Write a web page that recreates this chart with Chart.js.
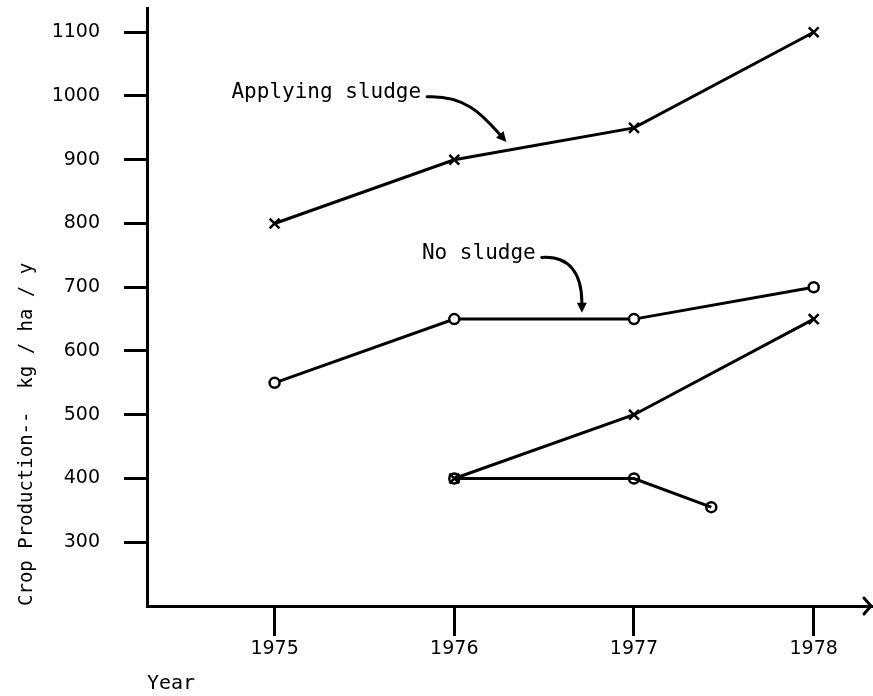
<!DOCTYPE html>
<html>
<head>
<meta charset="utf-8">
<script src="https://cdn.jsdelivr.net/npm/chart.js@4.4.1/dist/chart.umd.min.js"></script>
<style>
  html, body { margin: 0; padding: 0; background: #ffffff; }
  #wrap { width: 873px; height: 696px; position: relative; }
</style>
</head>
<body>
<div id="wrap"><canvas id="c" width="873" height="696"></canvas></div>
<script>
// ---- data ----
const years = [1975, 1976, 1977, 1978];
const yTickValues = [300, 400, 500, 600, 700, 800, 900, 1000, 1100];
const applyingSludge = [800, 900, 950, 1100];
const noSludge = [550, 650, 650, 700];
const lowerCrossYears = [1976, 1977, 1978];
const lowerCross = [400, 500, 650];
const lowerCircleYears = [1976, 1977, 1977.43];
const lowerCircle = [400, 400, 355];

const yTitle = 'Crop Production--  kg / ha / y';
const xTitle = 'Year';

// annotation labels (anchored in data units)
const annotations = [
  { text: 'Applying sludge', x: 1974.76, y: 1005, tipX: 1976.29, tipY: 928, c1: 0.5, c2x: 0.72, c2y: 0.45 },
  { text: 'No sludge', x: 1975.82, y: 753, tipX: 1976.71, tipY: 660, c1: 0.7, c2x: 1.0, c2y: 0.3 }
];

const pts = (xs, ys) => xs.map((x, i) => ({ x: x, y: ys[i] }));

const ink = '#000000';
const tickFont = { family: 'DejaVu Sans', size: 19 };
const annFont = '21px "DejaVu Sans Mono"';

const annotationPlugin = {
  id: 'annotationPlugin',
  afterDatasetsDraw(chart) {
    const ctx = chart.ctx;
    const xs = chart.scales.x, ys = chart.scales.y;
    ctx.save();
    ctx.fillStyle = ink;
    ctx.strokeStyle = ink;
    ctx.font = annFont;
    ctx.textBaseline = 'middle';
    ctx.textAlign = 'left';
    annotations.forEach(a => {
      const tx = xs.getPixelForValue(a.x);
      const ty = ys.getPixelForValue(a.y);
      ctx.fillText(a.text, tx, ty);
      const w = ctx.measureText(a.text).width;
      const sx = tx + w + 6, sy = ty + 4;
      const ex = xs.getPixelForValue(a.tipX), ey = ys.getPixelForValue(a.tipY);
      const dx = ex - sx, dy = ey - sy;
      const c1x = sx + a.c1 * dx, c1y = sy - 2;
      const c2x = sx + a.c2x * dx, c2y = sy + a.c2y * dy;
      const ang = Math.atan2(ey - c2y, ex - c2x);
      const hl = 10;
      const bx = ex - hl * Math.cos(ang), by = ey - hl * Math.sin(ang);
      ctx.lineWidth = 3;
      ctx.lineCap = 'round';
      ctx.beginPath();
      ctx.moveTo(sx, sy);
      ctx.bezierCurveTo(c1x, c1y, c2x, c2y, bx, by);
      ctx.stroke();
      ctx.beginPath();
      ctx.moveTo(ex, ey);
      ctx.lineTo(bx + 5 * Math.sin(ang), by - 5 * Math.cos(ang));
      ctx.lineTo(bx - 5 * Math.sin(ang), by + 5 * Math.cos(ang));
      ctx.closePath();
      ctx.fill();
    });
    // arrow tip at the end of the x axis
    const ax = chart.chartArea.right - 2, ay = chart.chartArea.bottom;
    ctx.lineWidth = 3;
    ctx.beginPath();
    ctx.moveTo(ax - 7, ay - 8);
    ctx.lineTo(ax, ay);
    ctx.lineTo(ax - 7, ay + 8);
    ctx.stroke();
    ctx.restore();
  }
};

const zeroPad = s => { s.paddingTop = 0; s.paddingBottom = 0; s.paddingLeft = 0; s.paddingRight = 0; };

const lineStyle = { borderColor: ink, borderWidth: 3, tension: 0, fill: false, pointBorderColor: ink, pointBorderWidth: 2.5 };

new Chart(document.getElementById('c'), {
  type: 'line',
  data: {
    datasets: [
      Object.assign({ label: 'Applying sludge', data: pts(years, applyingSludge), pointStyle: 'crossRot', pointRadius: 7, pointBackgroundColor: ink }, lineStyle),
      Object.assign({ label: 'No sludge', data: pts(years, noSludge), pointStyle: 'circle', pointRadius: 5, pointBackgroundColor: '#ffffff' }, lineStyle),
      Object.assign({ label: 'Lower x', data: pts(lowerCrossYears, lowerCross), pointStyle: 'crossRot', pointRadius: 7, pointBackgroundColor: ink }, lineStyle),
      Object.assign({ label: 'Lower o', data: pts(lowerCircleYears, lowerCircle), pointStyle: 'circle', pointRadius: 5, pointBackgroundColor: 'rgba(255,255,255,0)' }, lineStyle)
    ]
  },
  options: {
    responsive: false,
    animation: false,
    events: [],
    layout: { autoPadding: false, padding: { top: 8, right: 0, bottom: 0, left: 0 } },
    plugins: { legend: { display: false }, tooltip: { enabled: false } },
    scales: {
      x: {
        type: 'linear',
        min: 1974.29,
        max: 1978.33,
        afterBuildTicks: s => { s.ticks = years.map(v => ({ value: v })); },
        afterFit: s => { s.height = 90; zeroPad(s); },
        border: { display: true, color: ink, width: 3 },
        grid: { display: true, drawOnChartArea: false, drawTicks: true, tickLength: 30, tickColor: ink, tickWidth: 3, color: ink },
        ticks: { color: ink, font: tickFont, padding: 2, maxRotation: 0, autoSkip: false, callback: v => String(v) },
        title: { display: true, text: xTitle, align: 'start', color: ink, font: { family: 'DejaVu Sans Mono', size: 20 }, padding: { top: 0, bottom: 0 } }
      },
      y: {
        type: 'linear',
        min: 200,
        max: 1138,
        afterBuildTicks: s => { s.ticks = yTickValues.map(v => ({ value: v })); },
        afterFit: s => { s.width = 147; zeroPad(s); },
        border: { display: true, color: ink, width: 3 },
        grid: { display: true, drawOnChartArea: false, drawTicks: true, tickLength: 23, tickColor: ink, tickWidth: 3, color: ink },
        ticks: { color: ink, font: tickFont, padding: 24, autoSkip: false, callback: v => String(v) },
        title: { display: true, text: yTitle, align: 'start', color: ink, font: { family: 'DejaVu Sans Mono', size: 19 }, padding: { top: 16, bottom: 0 } }
      }
    }
  },
  plugins: [annotationPlugin]
});
</script>
</body>
</html>
